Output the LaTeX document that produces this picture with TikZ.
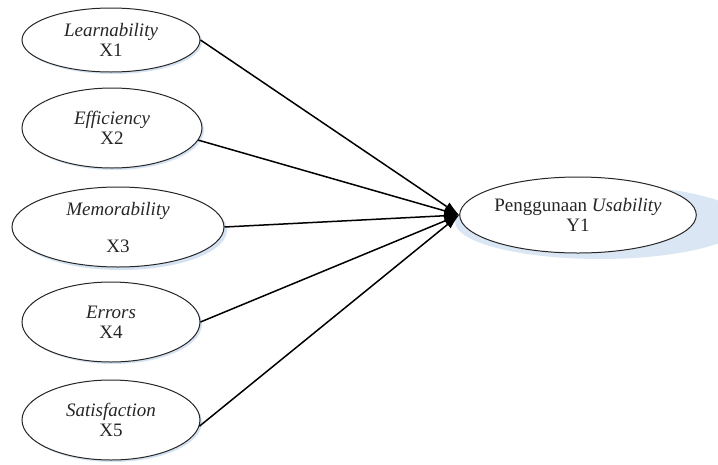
\documentclass[tikz,border=0pt]{standalone}
\usepackage{fontspec}
\setmainfont{Liberation Serif}
\usetikzlibrary{shapes.geometric,arrows.meta}
\definecolor{glow}{RGB}{212,226,242}
\begin{document}
\begin{tikzpicture}[x=1pt,y=-1pt,
  var/.style={ellipse,draw=black!85,line width=1pt,fill=white,inner sep=0pt,
    align=center,font=\fontsize{19}{20}\selectfont,text=black!85},
  glowshape/.style={ellipse,fill=glow,draw=none,inner sep=0pt},
  conn/.style={line width=1.5pt,black,-{Latex[length=15pt,width=10pt]}}]
\useasboundingbox (0,0) rectangle (718,464);
% soft shadows
\node[glowshape,minimum width=178pt,minimum height=64pt] (s1) at (113,42) {};
\node[glowshape,minimum width=180pt,minimum height=80pt] (s2) at (114,130) {};
\node[glowshape,minimum width=212pt,minimum height=80pt] (s3) at (121,230) {};
\node[glowshape,minimum width=178pt,minimum height=80pt] (s4) at (113,324) {};
\node[glowshape,minimum width=178pt,minimum height=80pt] (s5) at (113,422) {};
\node[glowshape,minimum width=290pt,minimum height=74pt,opacity=0.85] (sy) at (600,222) {};
% nodes
\node[var,minimum width=178pt,minimum height=64pt] (x1) at (111,40) {\textit{Learnability}\\X1};
\node[var,minimum width=180pt,minimum height=80pt] (x2) at (112,128) {\textit{Efficiency}\\X2};
\node[var,minimum width=212pt,minimum height=80pt] (x3) at (118,227) {\textit{Memorability}\\[17pt]X3};
\node[var,minimum width=178pt,minimum height=80pt] (x4) at (111,322) {\textit{Errors}\\X4};
\node[var,minimum width=178pt,minimum height=80pt] (x5) at (111,420) {\textit{Satisfaction}\\X5};
\node[var,minimum width=234pt,minimum height=76pt] (y) at (578,215) {Penggunaan \textit{Usability}\\Y1};
% connectors
\draw[conn] (x1.east) -- (y.west);
\draw[conn] (x2.-8) -- (y.west);
\draw[conn] (x3.east) -- (y.west);
\draw[conn] (x4.east) -- (y.west);
\draw[conn] (x5.-4) -- (y.west);
\end{tikzpicture}
\end{document}
